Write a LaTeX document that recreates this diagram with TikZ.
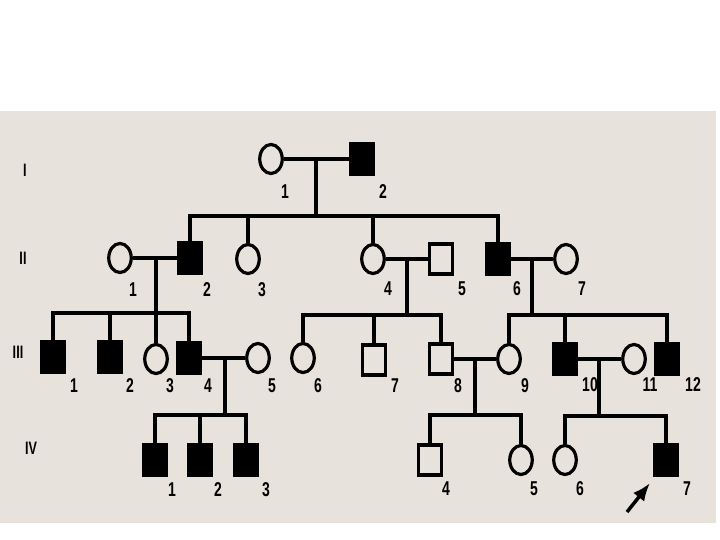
\documentclass[tikz,border=0pt]{standalone}
\usepackage{fontspec}
\setmainfont{Liberation Sans}
\newfontfamily\lblfont[FakeStretch=0.7]{Liberation Sans Bold}
\usetikzlibrary{shapes.geometric,arrows.meta}
\definecolor{bg}{HTML}{E7E3DC}
\tikzset{
  ln/.style={line width=3.2pt},
  male/.style={draw, line width=3.2pt, rectangle, minimum width=23pt, minimum height=30pt, inner sep=0pt, fill=bg},
  amale/.style={male, fill=black},
  female/.style={draw, line width=3.2pt, ellipse, minimum width=22.5pt, minimum height=29pt, inner sep=0pt, fill=bg},
  lbl/.style={font=\lblfont\fontsize{20}{20}\selectfont, inner sep=0pt},
  gen/.style={font=\lblfont\fontsize{18}{18}\selectfont, inner sep=0pt}
}
\begin{document}
\begin{tikzpicture}[x=1pt,y=-1pt]
\useasboundingbox (0,0) rectangle (720,540);
\fill[white] (0,0) rectangle (720,540);
\fill[bg] (0,111) rectangle (716,523);
% generation labels
\node[gen] (gI) at (25,170) {I};
\node[gen] (gII) at (23,258) {II};
\node[gen] (gIII) at (18,352) {III};
\node[gen] (gIV) at (31,448) {IV};
% generation I
\node[female] (I1) at (271,159) {};
\node[amale] (I2) at (362,159) {};
\node[lbl] (lI1) at (285,192) {1};
\node[lbl] (lI2) at (383,192) {2};
% generation II
\node[female] (II1) at (120,258) {};
\node[amale] (II2) at (190,258) {};
\node[female] (II3) at (248,259) {};
\node[female] (II4) at (373,259) {};
\node[male] (II5) at (441,259) {};
\node[amale] (II6) at (498,259) {};
\node[female] (II7) at (566,259) {};
\node[lbl] (lII1) at (133,290) {1};
\node[lbl] (lII2) at (207,290) {2};
\node[lbl] (lII3) at (262,290) {3};
\node[lbl] (lII4) at (388,289) {4};
\node[lbl] (lII5) at (462,289) {5};
\node[lbl] (lII6) at (517,289) {6};
\node[lbl] (lII7) at (582,289) {7};
% generation III
\node[amale] (III1) at (53,357) {};
\node[amale] (III2) at (110,357) {};
\node[female] (III3) at (156,359) {};
\node[amale] (III4) at (189,358) {};
\node[female] (III5) at (258,358) {};
\node[female] (III6) at (303,358) {};
\node[male] (III7) at (374,360) {};
\node[male] (III8) at (441,359) {};
\node[female] (III9) at (509,359) {};
\node[amale] (III10) at (565,359) {};
\node[female] (III11) at (634,359) {};
\node[amale] (III12) at (667,359) {};
\node[lbl] (lIII1) at (74,386) {1};
\node[lbl] (lIII2) at (130,386) {2};
\node[lbl] (lIII3) at (170,386) {3};
\node[lbl] (lIII4) at (208,386) {4};
\node[lbl] (lIII5) at (272,386) {5};
\node[lbl] (lIII6) at (318,386) {6};
\node[lbl] (lIII7) at (395,386) {7};
\node[lbl] (lIII8) at (458,386) {8};
\node[lbl] (lIII9) at (525,386) {9};
\node[lbl] (lIII10) at (590,385) {10};
\node[lbl] (lIII11) at (650,385) {11};
\node[lbl] (lIII12) at (693,385) {12};
% generation IV
\node[amale] (IV1) at (155,460) {};
\node[amale] (IV2) at (200,460) {};
\node[amale] (IV3) at (246,460) {};
\node[male] (IV4) at (430,460) {};
\node[female] (IV5) at (521,460) {};
\node[female] (IV6) at (565,460) {};
\node[amale] (IV7) at (666,460) {};
\node[lbl] (lIV1) at (172,490) {1};
\node[lbl] (lIV2) at (218,490) {2};
\node[lbl] (lIV3) at (266,490) {3};
\node[lbl] (lIV4) at (446,489) {4};
\node[lbl] (lIV5) at (534,489) {5};
\node[lbl] (lIV6) at (580,489) {6};
\node[lbl] (lIV7) at (687,489) {7};
% junction coordinates
\coordinate (m1) at (316,159); \coordinate (s1) at (316,216);
\coordinate (m2) at (156,258); \coordinate (s2) at (156,313);
\coordinate (m3) at (407,259); \coordinate (s3) at (407,315);
\coordinate (m4) at (532,259); \coordinate (s4) at (532,315);
\coordinate (m5) at (225,358); \coordinate (s5) at (225,415);
\coordinate (m6) at (475,359); \coordinate (s6) at (475,415);
\coordinate (m7) at (599,359); \coordinate (s7) at (599,416);
% marriages
\draw[ln] (I1) -- (I2);
\draw[ln] (II1) -- (II2);
\draw[ln] (II4) -- (II5);
\draw[ln] (II6) -- (II7);
\draw[ln] (III4) -- (III5);
\draw[ln] (III8) -- (III9);
\draw[ln] (III10) -- (III11);
% descent
\draw[ln] (m1) -- (s1); \draw[ln] (m2) -- (s2); \draw[ln] (m3) -- (s3);
\draw[ln] (m4) -- (s4); \draw[ln] (m5) -- (s5); \draw[ln] (m6) -- (s6);
\draw[ln] (m7) -- (s7);
% sibships
\draw[ln] (II2.north) |- (s1) -| (II6.north);
\draw[ln] (II3.north) -- (II3.north |- s1);
\draw[ln] (II4.north) -- (II4.north |- s1);
\draw[ln] (III1.north) |- (s2) -| (III4.north);
\draw[ln] (III2.north) -- (III2.north |- s2);
\draw[ln] (III3.north) -- (III3.north |- s2);
\draw[ln] (III6.north) |- (s3) -| (III8.north);
\draw[ln] (III7.north) -- (III7.north |- s3);
\draw[ln] (III9.north) |- (s4) -| (III12.north);
\draw[ln] (III10.north) -- (III10.north |- s4);
\draw[ln] (IV1.north) |- (s5) -| (IV3.north);
\draw[ln] (IV2.north) -- (IV2.north |- s5);
\draw[ln] (IV4.north) |- (s6) -| (IV5.north);
\draw[ln] (IV6.north) |- (s7) -| (IV7.north);
% proband arrow
\coordinate (pa) at (627,512);
\coordinate (pb) at (650,483);
\draw[line width=3.5pt, -{Latex[length=18pt,width=14pt]}] (pa) -- (pb);
\end{tikzpicture}
\end{document}
